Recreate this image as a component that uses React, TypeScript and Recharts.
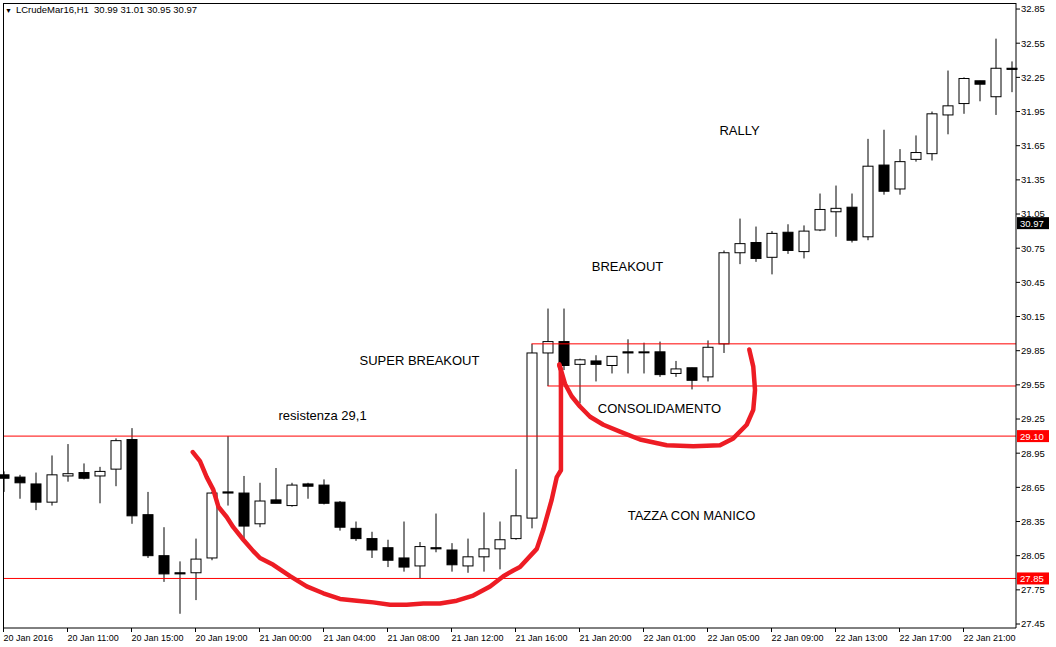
import { Bar, ComposedChart, Line, ReferenceLine, Scatter, XAxis, YAxis } from 'recharts';

// H1 bars (bar 0 is half hidden behind the left frame)
const opens = [
  28.76, 28.74, 28.68, 28.52, 28.75, 28.78, 28.75, 28.81, 29.07, 28.41, 28.05, 27.9, 27.9, 28.03, 28.61, 28.6,
  28.33, 28.54, 28.49, 28.68, 28.67, 28.52, 28.29, 28.2, 28.12, 28.03, 27.96, 28.12, 28.1, 27.96, 28.04, 28.11,
  28.2, 28.38, 29.83, 29.93, 29.73, 29.76, 29.72, 29.84, 29.84, 29.84, 29.65, 29.7, 29.62, 29.91, 30.71, 30.8,
  30.67, 30.89, 30.72, 30.91, 31.07, 31.11, 30.85, 31.48, 31.27, 31.53, 31.58, 31.92, 32.02, 32.22, 32.08, 32.33,
];
const highs = [
  28.79, 28.76, 28.78, 28.93, 29.03, 28.86, 28.83, 29.08, 29.17, 28.61, 28.3, 28.0, 28.2, 28.61, 29.1, 28.75,
  28.69, 28.82, 28.69, 28.69, 28.72, 28.53, 28.35, 28.26, 28.19, 28.35, 28.17, 28.42, 28.16, 28.2, 28.43, 28.35,
  28.81, 29.91, 30.22, 30.22, 29.78, 29.81, 29.8, 29.95, 29.92, 29.93, 29.76, 29.7, 29.94, 30.73, 31.01, 30.94,
  30.9, 30.96, 30.95, 31.23, 31.3, 31.23, 31.71, 31.79, 31.62, 31.74, 31.95, 32.31, 32.25, 32.22, 32.59, 32.39,
];
const lows = [
  28.61, 28.55, 28.45, 28.49, 28.7, 28.72, 28.51, 28.66, 28.33, 28.03, 27.82, 27.54, 27.66, 28.01, 28.49, 28.19,
  28.3, 28.51, 28.48, 28.55, 28.5, 28.27, 28.18, 28.03, 27.95, 27.91, 27.85, 28.08, 27.91, 27.9, 27.91, 27.93,
  28.19, 28.29, 29.54, 29.68, 29.39, 29.58, 29.65, 29.65, 29.65, 29.62, 29.62, 29.51, 29.58, 29.83, 30.61, 30.63,
  30.52, 30.7, 30.66, 30.9, 30.85, 30.8, 30.82, 31.22, 31.22, 31.51, 31.52, 31.75, 31.93, 32.04, 31.92, 32.12,
];
const closes = [
  28.73, 28.69, 28.52, 28.76, 28.77, 28.73, 28.79, 29.06, 28.4, 28.05, 27.89, 27.89, 28.02, 28.6, 28.6, 28.31,
  28.53, 28.51, 28.67, 28.66, 28.51, 28.3, 28.2, 28.1, 28.01, 27.95, 28.13, 28.11, 27.97, 28.04, 28.11, 28.19,
  28.4, 29.83, 29.93, 29.72, 29.77, 29.73, 29.8, 29.83, 29.84, 29.64, 29.69, 29.59, 29.88, 30.71, 30.79, 30.66,
  30.88, 30.73, 30.9, 31.09, 31.1, 30.82, 31.47, 31.25, 31.51, 31.59, 31.93, 32.0, 32.24, 32.19, 32.33, 32.32,
];

// one label every 4 bars
const timeLabels = [
  '20 Jan 2016', '20 Jan 11:00', '20 Jan 15:00', '20 Jan 19:00', '21 Jan 00:00', '21 Jan 04:00',
  '21 Jan 08:00', '21 Jan 12:00', '21 Jan 16:00', '21 Jan 20:00', '22 Jan 01:00', '22 Jan 05:00',
  '22 Jan 09:00', '22 Jan 13:00', '22 Jan 17:00', '22 Jan 21:00',
];

const priceTicks = [
  27.45, 27.75, 28.05, 28.35, 28.65, 28.95, 29.25, 29.55, 29.85, 30.15, 30.45, 30.75, 31.05, 31.35, 31.65,
  31.95, 32.25, 32.55, 32.85,
];

const resistance = 29.1;
const support = 27.85;
const lastPrice = 30.97;
const boxTop = 29.91;
const boxBottom = 29.54;

// hand drawn strokes, x = bar index, p = price
const cupX = [
  11.83, 12.28, 12.7, 13.11, 13.43, 13.95, 14.36, 14.99, 15.61, 16.03, 16.86, 17.91, 18.95, 19.99, 21.03, 22.08,
  23.11, 24.16, 25.2, 26.24, 27.28, 28.33, 29.36, 30.41, 31.24, 31.86, 32.28, 33.33, 33.74, 34.26, 34.58, 34.84,
  34.84, 34.84, 34.83, 34.74,
];
const cupP = [
  28.96, 28.88, 28.74, 28.63, 28.48, 28.39, 28.3, 28.19, 28.09, 28.03, 27.97, 27.87, 27.78, 27.72, 27.67, 27.655,
  27.64, 27.62, 27.62, 27.63, 27.63, 27.655, 27.7, 27.78, 27.87, 27.92, 27.95, 28.11, 28.28, 28.54, 28.74, 28.8,
  29.215, 29.505, 29.68, 29.72,
];
const handleX = [34.74, 35.09, 35.51, 36.03, 36.66, 37.49, 38.53, 39.78, 41.45, 43.11, 44.78, 45.61, 46.45, 46.86, 46.97, 46.86, 46.61];
const handleP = [29.73, 29.56, 29.45, 29.36, 29.27, 29.2, 29.14, 29.07, 29.02, 29.01, 29.02, 29.08, 29.2, 29.33, 29.505, 29.71, 29.86];

const noteTexts = ['RALLY', 'BREAKOUT', 'SUPER BREAKOUT', 'resistenza 29,1', 'CONSOLIDAMENTO', 'TAZZA CON MANICO'];
const noteX = [46, 39, 26, 19.94, 41, 43];
const noteP = [31.78, 30.59, 29.76, 29.28, 29.34, 28.4];

const bars = opens.map((o, i) => ({ i, open: o, high: highs[i], low: lows[i], close: closes[i] }));
const cup = cupX.map((x, k) => ({ x, p: cupP[k] }));
const handle = handleX.map((x, k) => ({ x, p: handleP[k] }));
const notes = noteTexts.map((text, k) => ({ x: noteX[k], p: noteP[k], text }));

const FONT = '"Liberation Sans", Arial, sans-serif';
const RED = '#ff0000';
const MARKER = '#ed1c24';
const PAD = { left: -7.5, right: -3.5 };

function Candle(props: any) {
  const { x, y, width, height, payload } = props;
  const { open, close, high, low } = payload;
  const cx = x + width / 2;
  const span = high - low || 1;
  const toY = (v: number) => y + ((high - v) / span) * height;
  const top = toY(Math.max(open, close));
  const bottom = toY(Math.min(open, close));
  return (
    <g>
      <line x1={cx} x2={cx} y1={y} y2={y + height} stroke="#000" strokeWidth={1} />
      <rect
        x={x + 0.5}
        y={top}
        width={width - 1}
        height={Math.max(bottom - top, 1)}
        fill={close >= open ? '#fff' : '#000'}
        stroke="#000"
        strokeWidth={1}
      />
    </g>
  );
}

function TimeTick(props: any) {
  const { x, y, payload } = props;
  return (
    <text x={x} y={y + 7} fontSize={9} fontFamily={FONT} fill="#000" textAnchor="start">
      {timeLabels[payload.value / 4]}
    </text>
  );
}

function PriceTag(props: any) {
  const { viewBox, text, bg } = props;
  const left = viewBox.x + viewBox.width + 1;
  const cy = viewBox.y;
  return (
    <g>
      <rect x={left} y={cy - 6} width={32} height={12} fill={bg} />
      <text x={left + 3} y={cy} dominantBaseline="central" fontSize={9.5} fontFamily={FONT} fill="#fff">
        {text}
      </text>
    </g>
  );
}

function Note(props: any) {
  const { cx, cy, payload } = props;
  return (
    <text x={cx} y={cy} textAnchor="middle" dominantBaseline="central" fontSize={13} fontFamily={FONT} fill="#000">
      {payload.text}
    </text>
  );
}

export default function App() {
  return (
    <div
      style={{
        position: 'absolute',
        left: 0,
        top: 0,
        width: 1056,
        height: 647,
        background: '#fff',
        overflow: 'hidden',
        fontFamily: FONT,
      }}
    >
      <ComposedChart width={1056} height={647} data={bars} margin={{ top: 3, right: 0, bottom: 0, left: 3 }}>
        <XAxis
          dataKey="i"
          type="category"
          interval={3}
          padding={PAD}
          height={19}
          tickSize={4}
          tick={<TimeTick />}
          axisLine={{ stroke: '#000' }}
          tickLine={{ stroke: '#000' }}
        />
        <XAxis xAxisId="draw" dataKey="x" type="number" domain={[-0.5, 63.5]} allowDataOverflow padding={PAD} hide />
        <YAxis
          orientation="right"
          type="number"
          domain={[27.415, 32.903]}
          allowDataOverflow
          ticks={priceTicks}
          width={40}
          tickSize={4}
          tickMargin={1}
          tickFormatter={(v: number) => v.toFixed(2)}
          tick={{ fill: '#000', fontSize: 9.5, fontFamily: FONT }}
          axisLine={{ stroke: '#000' }}
          tickLine={{ stroke: '#000' }}
        />
        <ReferenceLine y={resistance} stroke={RED} label={<PriceTag text="29.10" bg={RED} />} />
        <ReferenceLine y={support} stroke={RED} label={<PriceTag text="27.85" bg={RED} />} />
        <ReferenceLine
          xAxisId="draw"
          segment={[{ x: 33, y: boxTop }, { x: 63.5, y: boxTop }]}
          stroke={RED}
          ifOverflow="hidden"
        />
        <ReferenceLine
          xAxisId="draw"
          segment={[{ x: 34, y: boxBottom }, { x: 63.5, y: boxBottom }]}
          stroke={RED}
          ifOverflow="hidden"
        />
        <Bar dataKey={(d: any) => [d.low, d.high]} barSize={11} shape={<Candle />} isAnimationActive={false} />
        <Line
          xAxisId="draw"
          data={cup}
          dataKey="p"
          type="linear"
          stroke={MARKER}
          strokeWidth={4.5}
          strokeLinecap="round"
          strokeLinejoin="round"
          dot={false}
          activeDot={false}
          isAnimationActive={false}
        />
        <Line
          xAxisId="draw"
          data={handle}
          dataKey="p"
          type="linear"
          stroke={MARKER}
          strokeWidth={4.5}
          strokeLinecap="round"
          strokeLinejoin="round"
          dot={false}
          activeDot={false}
          isAnimationActive={false}
        />
        <Scatter xAxisId="draw" data={notes} dataKey="p" shape={<Note />} isAnimationActive={false} />
        <ReferenceLine y={lastPrice} stroke="none" label={<PriceTag text="30.97" bg="#000" />} />
      </ComposedChart>
      {/* top and left edges of the MT4 frame */}
      <div
        style={{
          position: 'absolute',
          left: 3,
          top: 3,
          width: 1013,
          height: 625,
          borderTop: '1px solid #000',
          borderLeft: '1px solid #000',
          boxSizing: 'border-box',
          pointerEvents: 'none',
        }}
      />
      <div style={{ position: 'absolute', left: 5, top: 4, fontSize: 9.5, color: '#000', whiteSpace: 'pre' }}>
        <span style={{ fontSize: 7, marginRight: 4 }}>▼</span>
        LCrudeMar16,H1  30.99 31.01 30.95 30.97
      </div>
    </div>
  );
}
